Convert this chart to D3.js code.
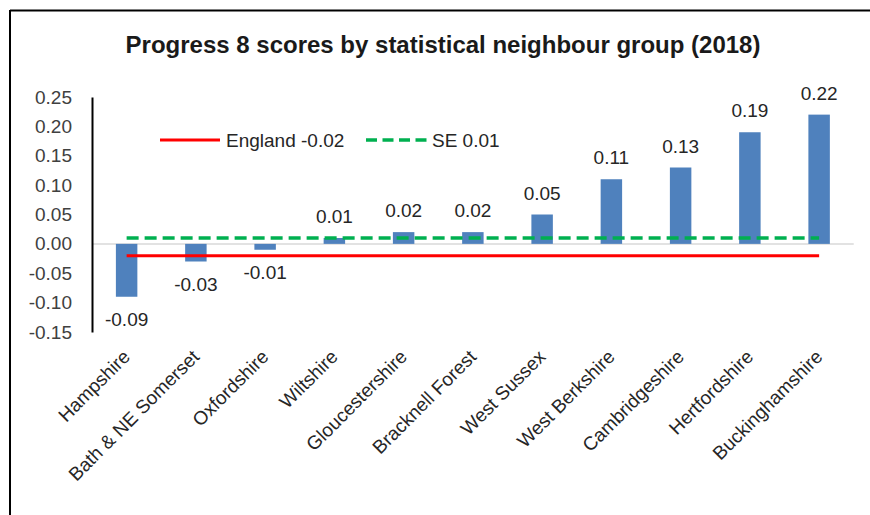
<!DOCTYPE html>
<html>
<head>
<meta charset="utf-8">
<script src="https://cdn.jsdelivr.net/npm/d3@7"></script>
<style>
  body { margin: 0; background: #fff; }
  text { font-family: "Liberation Sans", Arial, sans-serif; }
</style>
</head>
<body>
<div id="my_dataviz"></div>
<script>
// data
var areas = ["Hampshire", "Bath & NE Somerset", "Oxfordshire", "Wiltshire",
  "Gloucestershire", "Bracknell Forest", "West Sussex", "West Berkshire",
  "Cambridgeshire", "Hertfordshire", "Buckinghamshire"];
var scores = [-0.09, -0.03, -0.01, 0.01, 0.02, 0.02, 0.05, 0.11, 0.13, 0.19, 0.22];
var englandScore = -0.02;
var seScore = 0.01;
var yTicks = [-0.15, -0.10, -0.05, 0.00, 0.05, 0.10, 0.15, 0.20, 0.25];

var W = 870, H = 515;
var margin = {top: 97, left: 92, right: 16, bottom: 183};
var width = 853.75 - margin.left,
    height = 332 - margin.top;

// two decimals, plain hyphen for negatives like the original
var fmt = function(v) { return d3.format(".2f")(v).replace("\u2212", "-"); };

var svg = d3.select("#my_dataviz")
  .append("svg")
    .attr("width", W)
    .attr("height", H);

// chart border (only top and left visible in the crop)
svg.append("line").attr("x1", 10).attr("x2", W).attr("y1", 10.5).attr("y2", 10.5)
  .attr("stroke", "#000").attr("stroke-width", 2);
svg.append("line").attr("x1", 10).attr("x2", 10).attr("y1", 10).attr("y2", H)
  .attr("stroke", "#000").attr("stroke-width", 2);

// title
svg.append("text")
  .attr("x", 443)
  .attr("y", 53)
  .attr("text-anchor", "middle")
  .style("font-size", "24px")
  .style("font-weight", "bold")
  .attr("fill", "#1a1a1a")
  .text("Progress 8 scores by statistical neighbour group (2018)");

var g = svg.append("g")
  .attr("transform", "translate(" + margin.left + "," + margin.top + ")");

var x = d3.scaleBand()
  .domain(areas)
  .range([0, width])
  .paddingInner(0.69)
  .paddingOuter(0.345);

var y = d3.scaleLinear()
  .domain([-0.15, 0.25])
  .range([height, 0]);

// zero line
g.append("line")
  .attr("x1", 0).attr("x2", width)
  .attr("y1", y(0)).attr("y2", y(0))
  .attr("stroke", "#d9d9d9")
  .attr("stroke-width", 1.5);

// y axis
var yAxis = g.append("g")
  .call(d3.axisLeft(y).tickValues(yTicks).tickFormat(fmt).tickSize(0).tickPadding(20));
yAxis.select(".domain").attr("stroke", "#000").attr("stroke-width", 2);
yAxis.selectAll("text")
  .style("font-size", "19px")
  .style("font-family", "Liberation Sans, Arial, sans-serif")
  .attr("fill", "#404040");

// bars
g.selectAll(".bar")
  .data(areas)
  .enter().append("rect")
    .attr("class", "bar")
    .attr("x", function(d) { return x(d); })
    .attr("width", x.bandwidth())
    .attr("y", function(d, i) { return y(Math.max(0, scores[i])); })
    .attr("height", function(d, i) { return Math.abs(y(scores[i]) - y(0)); })
    .attr("fill", "#4f81bd");

// data labels
g.selectAll(".lbl")
  .data(areas)
  .enter().append("text")
    .attr("class", "lbl")
    .attr("x", function(d) { return x(d) + x.bandwidth() / 2; })
    .attr("y", function(d, i) {
      return scores[i] >= 0 ? y(scores[i]) - 15 : y(scores[i]) + 29;
    })
    .attr("text-anchor", "middle")
    .style("font-size", "19px")
    .attr("fill", "#262626")
    .text(function(d, i) { return fmt(scores[i]); });

// reference lines from first to last bar centre
var first = x(areas[0]) + x.bandwidth() / 2,
    last = x(areas[areas.length - 1]) + x.bandwidth() / 2;

g.append("line")
  .attr("x1", first).attr("x2", last)
  .attr("y1", y(seScore)).attr("y2", y(seScore))
  .attr("stroke", "#00b050")
  .attr("stroke-width", 3.5)
  .attr("stroke-dasharray", "12,6");

g.append("line")
  .attr("x1", first).attr("x2", last)
  .attr("y1", y(englandScore)).attr("y2", y(englandScore))
  .attr("stroke", "#ff0000")
  .attr("stroke-width", 3);

// category labels
g.selectAll(".cat")
  .data(areas)
  .enter().append("text")
    .attr("class", "cat")
    .attr("transform", function(d) {
      return "translate(" + (x(d) + x.bandwidth() / 2 + 4.5) + "," + (358 - margin.top) + ") rotate(-45)";
    })
    .attr("text-anchor", "end")
    .style("font-size", "19px")
    .attr("fill", "#262626")
    .text(function(d) { return d; });

// legend
var legend = svg.append("g");
legend.append("line")
  .attr("x1", 160).attr("x2", 220).attr("y1", 140).attr("y2", 140)
  .attr("stroke", "#ff0000").attr("stroke-width", 3);
legend.append("text")
  .attr("x", 226).attr("y", 146.5)
  .style("font-size", "19px").attr("fill", "#262626")
  .text("England " + fmt(englandScore));
legend.append("line")
  .attr("x1", 366).attr("x2", 427).attr("y1", 140).attr("y2", 140)
  .attr("stroke", "#00b050").attr("stroke-width", 3.5)
  .attr("stroke-dasharray", "11,5.5");
legend.append("text")
  .attr("x", 432).attr("y", 146.5)
  .style("font-size", "19px").attr("fill", "#262626")
  .text("SE " + fmt(seScore));
</script>
</body>
</html>
